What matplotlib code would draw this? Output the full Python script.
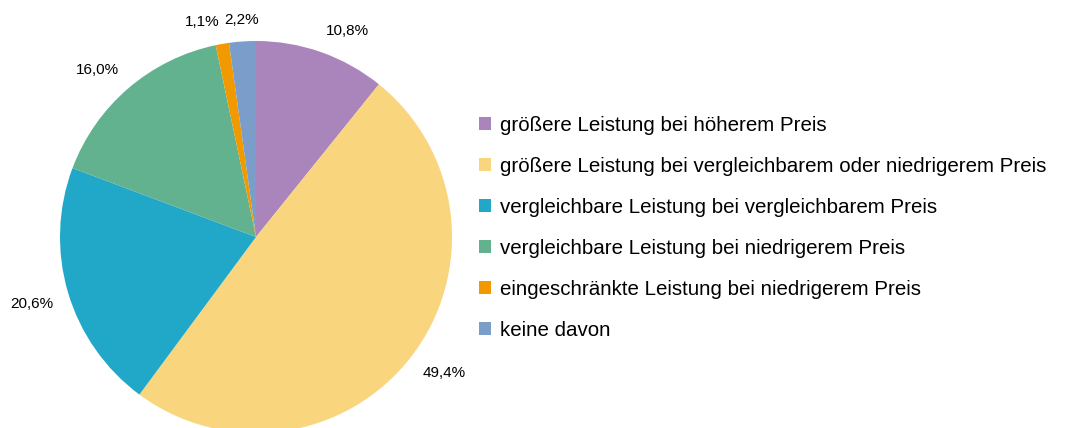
import matplotlib
matplotlib.use("Agg")
import matplotlib.pyplot as plt
from matplotlib.patches import Patch
import numpy as np

plt.rcParams['font.family'] = ['Liberation Sans', 'DejaVu Sans']

categories = [
    "größere Leistung bei höherem Preis",
    "größere Leistung bei vergleichbarem oder niedrigerem Preis",
    "vergleichbare Leistung bei vergleichbarem Preis",
    "vergleichbare Leistung bei niedrigerem Preis",
    "eingeschränkte Leistung bei niedrigerem Preis",
    "keine davon",
]
values = [10.8, 49.4, 20.6, 16.0, 1.1, 2.2]
colors = ["#A985BB", "#F9D57E", "#21A7C8", "#63B28F", "#F09A00", "#7B9DC9"]

W, H = 1076, 428
fig = plt.figure(figsize=(W / 100, H / 100), dpi=100)
ax = fig.add_axes([0, 0, 1, 1])
ax.set_aspect('equal')
ax.axis('off')

cx, cy, r = 256, H - 237, 196
wedges, texts = ax.pie(values, colors=colors, startangle=90, counterclock=False,
                       center=(cx, cy), radius=r, labels=None,
                       wedgeprops=dict(linewidth=0))
ax.set_xlim(0, W)
ax.set_ylim(0, H)

total = sum(values)
cum = 0
for v in values:
    mid = 90 - (cum + v / 2) / total * 360
    cum += v
    c, s = np.cos(np.radians(mid)), np.sin(np.radians(mid))
    d = r + 15
    x = cx + d * c
    y = cy + d * s
    ha = 'left' if c > 0.1 else ('right' if c < -0.1 else 'center')
    va = 'bottom' if s > 0 else 'top'
    ax.text(x, y, f"{v:.1f}".replace('.', ',') + '%', ha=ha, va=va,
            fontsize=11, color='#000000')

handles = [Patch(facecolor=c, edgecolor='none') for c in colors]
fig.legend(handles, categories, loc='upper left', bbox_to_anchor=(479 / W, 1 - 116 / H),
           frameon=False, fontsize=14.8, handlelength=0.59, handleheight=0.59,
           handletextpad=0.44, labelspacing=1.07, borderpad=0, borderaxespad=0)

fig.savefig("out.png", dpi=100)
